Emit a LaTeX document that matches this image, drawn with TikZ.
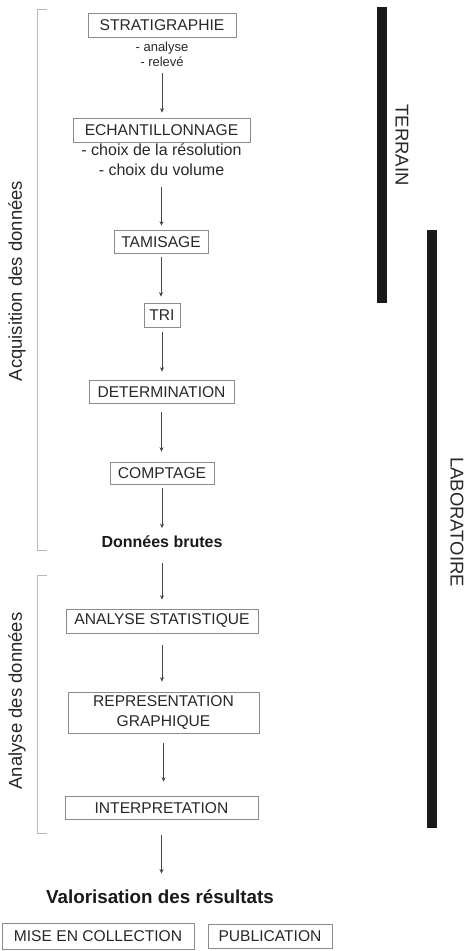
\documentclass[tikz,border=0pt]{standalone}
\usepackage{fontspec}
\setmainfont{Liberation Sans}
\usepackage{tikz}
\usetikzlibrary{arrows.meta, positioning}
\usepackage{xcolor}
\definecolor{boxgray}{RGB}{140,140,140}
\definecolor{textgray}{RGB}{40,40,40}
\definecolor{arrowgray}{RGB}{70,70,70}
\definecolor{bracketgray}{RGB}{185,185,185}
\definecolor{barblack}{RGB}{25,25,25}
\tikzset{
  box/.style       = {draw=boxgray, line width=0.7pt, text=textgray, align=center,
                      font=\fontsize{15.6}{20}\selectfont, inner sep=0pt, minimum height=24pt},
  note/.style      = {text=textgray, align=center, inner sep=0pt},
  result/.style    = {text=barblack, inner sep=0pt, font=\bfseries},
  arrow/.style     = {-{Stealth[length=4.5pt, width=4pt]}, line width=0.6pt, draw=arrowgray},
  sidelabel/.style = {text=textgray, font=\fontsize{18.5}{20}\selectfont, inner sep=0pt},
  bracketline/.style = {draw=bracketgray, line width=0.8pt},
  bar/.style       = {fill=barblack, draw=none},
}

\begin{document}
\begin{tikzpicture}[x=1pt, y=-1pt]
  \useasboundingbox (0,0) rectangle (468,951);
  % chaine operatoire
  \node[box, minimum width=148pt] (strat) at (162,25) {STRATIGRAPHIE};
  \node[note, anchor=north, font=\fontsize{13}{15}\selectfont] (stratnote) at (162,42) {- analyse\\- relevé};
  \node[box, minimum width=177pt] (echant) at (161.5,130) {ECHANTILLONNAGE};
  \node[note, anchor=north, font=\fontsize{16}{20}\selectfont] (echantnote) at (161.5,143.5) {- choix de la résolution\\- choix du volume};
  \node[box, minimum width=94pt, minimum height=23pt] (tamis) at (161,242) {TAMISAGE};
  \node[box, minimum width=36pt] (tri) at (162,315) {TRI};
  \node[box, minimum width=145pt, minimum height=23pt] (determ) at (161.5,392) {DETERMINATION};
  \node[box, minimum width=104pt, minimum height=22pt] (compt) at (162,473) {COMPTAGE};
  \node[result, anchor=base, font=\fontsize{16}{18}\selectfont\bfseries] (brutes) at (162,547.5) {Données brutes};
  \node[box, minimum width=192pt] (anastat) at (162,621) {ANALYSE STATISTIQUE};
  \node[box, minimum width=191pt, minimum height=41pt] (repgraph) at (163.5,713) {REPRESENTATION\\GRAPHIQUE};
  \node[box, minimum width=193pt, minimum height=23pt] (interp) at (161.5,808) {INTERPRETATION};
  \node[result, anchor=base, font=\fontsize{18.8}{20}\selectfont\bfseries] (valor) at (160,903.5) {Valorisation des résultats};
  \node[box, minimum width=192pt, minimum height=26pt] (misecoll) at (98,936) {MISE EN COLLECTION};
  \node[box, minimum width=124pt] (publi) at (270,936) {PUBLICATION};
  \foreach \a/\b/\s/\e in {stratnote/echant/6.5pt/5pt, echantnote/tamis/11pt/4.5pt,
      tamis/tri/3.5pt/6pt, tri/determ/5pt/8.5pt, determ/compt/8.5pt/10pt,
      compt/brutes/4pt/7.5pt, brutes/anastat/15pt/9pt, anastat/repgraph/12pt/10.5pt,
      repgraph/interp/9.5pt/14.5pt, interp/valor/15.5pt/16pt} {
    \draw[arrow, shorten <=\s, shorten >=\e] (\a.south) -- (\a.south |- \b.north);
  }
  % phases
  \draw[bracketline] (47,9) -- (37,9) -- (37,550) -- (47,550);
  \draw[bracketline] (47,575) -- (37,575) -- (37,833) -- (47,833);
  \node[sidelabel, rotate=90] (acquis) at (17,281) {Acquisition des données};
  \node[sidelabel, rotate=90] (analyse) at (17,701) {Analyse des données};
  % lieux
  \fill[bar] (377,7) rectangle (387,303);
  \fill[bar] (427,230) rectangle (437,828);
  \node[sidelabel, rotate=-90] (terrain) at (402,145) {TERRAIN};
  \node[sidelabel, rotate=-90] (labo) at (457,522) {LABORATOIRE};
\end{tikzpicture}
\end{document}
